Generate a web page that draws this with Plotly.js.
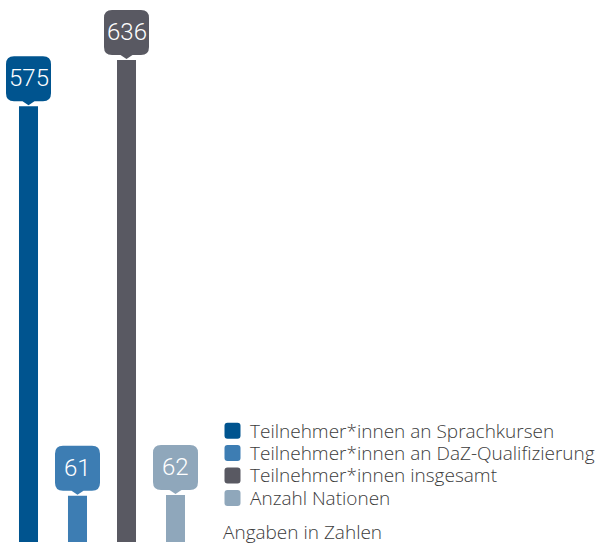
<!DOCTYPE html>
<html><head><meta charset="utf-8">
<script src="https://cdn.plot.ly/plotly-3.0.1.min.js"></script>
<style>html,body{margin:0;padding:0;background:#fff}#c{width:605px;height:546px}</style>
</head><body><div id="c"></div>
<script>
var categories = ["Teilnehmer*innen an Sprachkursen","Teilnehmer*innen an DaZ-Qualifizierung","Teilnehmer*innen insgesamt","Anzahl Nationen"];
var values = [575, 61, 636, 62];
var colors = ["#00548f","#3d7db3","#595962","#8fa7bb"];
var note = "Angaben in Zahlen";

var H = 542; // plot height in px
var traces = categories.map(function(c,i){
  return {type:"bar", x:[i], y:[values[i]], name:c, width:0.388,
    marker:{color:colors[i], line:{width:0}}, hoverinfo:"skip", showlegend:false};
});
var bubble = "M0,1 L-6,5 L-14.5,5 Q-22.5,5 -22.5,13 L-22.5,42 Q-22.5,50 -14.5,50 L14.5,50 Q22.5,50 22.5,42 L22.5,13 Q22.5,5 14.5,5 L6,5 Z";
var shapes = values.map(function(v,i){
  return {type:"path", xref:"x", yref:"y", xsizemode:"pixel", ysizemode:"pixel",
    xanchor:i, yanchor:v, path:bubble, fillcolor:colors[i], line:{width:0}, layer:"above"};
});
var annotations = values.map(function(v,i){
  return {x:i, y:v, xref:"x", yref:"y", text:String(v), showarrow:false, yshift:28,
    xanchor:"center", yanchor:"middle",
    font:{family:"Roboto", size:24, weight:300, color:"#ffffff"}};
});
// custom legend (layout)
var legFont = {family:"Open Sans", size:19, weight:300, color:"#3c3c3c"};
var swatch = "M-5,8 L5,8 Q8,8 8,5 L8,-5 Q8,-8 5,-8 L-5,-8 Q-8,-8 -8,-5 L-8,5 Q-8,8 -5,8 Z";
categories.forEach(function(c,i){
  var cy = 430.7 + i*22.4;
  shapes.push({type:"path", xref:"paper", yref:"paper", xsizemode:"pixel", ysizemode:"pixel",
    xanchor:232.5/605, yanchor:(H-cy)/H, path:swatch, fillcolor:colors[i], line:{width:0}});
  annotations.push({xref:"paper", yref:"paper", x:249/605, y:(H-cy)/H, xanchor:"left", yanchor:"middle",
    text:c, showarrow:false, font:legFont, borderpad:0});
});
annotations.push({xref:"paper", yref:"paper", x:222/605, y:-4/H, xanchor:"left", yanchor:"bottom",
  text:note, showarrow:false, font:legFont, borderpad:0});

var layout = {
  width:605, height:546, margin:{l:0,r:0,t:0,b:4},
  paper_bgcolor:"#fff", plot_bgcolor:"#fff",
  barmode:"overlay", showlegend:false,
  xaxis:{range:[-0.5816,11.765], showgrid:false, zeroline:false, showticklabels:false, showline:false, fixedrange:true},
  yaxis:{range:[0,715], showgrid:false, zeroline:false, showticklabels:false, showline:false, fixedrange:true},
  shapes:shapes, annotations:annotations
};
Plotly.newPlot("c", traces, layout, {displayModeBar:false, staticPlot:true});
</script></body></html>
